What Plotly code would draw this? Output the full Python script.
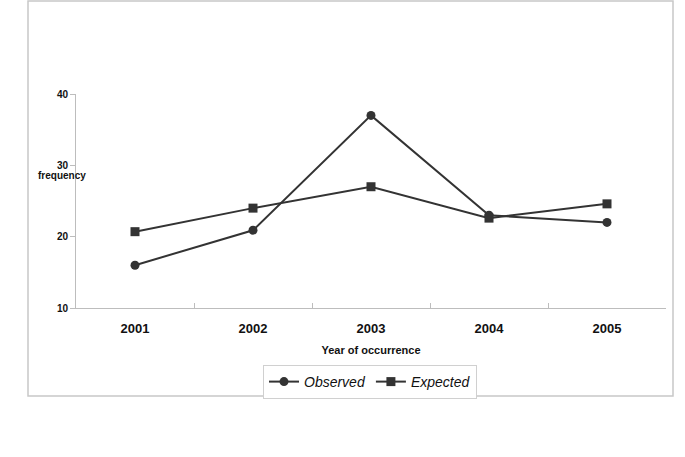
import plotly.graph_objects as go

years = ["2001", "2002", "2003", "2004", "2005"]
observed = [16.0, 20.9, 37.0, 23.0, 22.0]
expected = [20.7, 24.0, 27.0, 22.6, 24.6]

W, H = 685, 457
L, R, T, B = 76, 19, 94, 149
pw, ph = W - L - R, H - T - B

def px(x):
    return (x - L) / pw

def py(y):
    return (H - B - y) / ph

line_col = "#333333"
axis_col = "#bdbdbd"
font = "Liberation Sans, Arial, sans-serif"

fig = go.Figure()
fig.add_trace(go.Scatter(x=years, y=observed, name="Observed", mode="lines+markers",
                         line=dict(color=line_col, width=2),
                         marker=dict(symbol="circle", size=9, color=line_col)))
fig.add_trace(go.Scatter(x=years, y=expected, name="Expected", mode="lines+markers",
                         line=dict(color=line_col, width=2),
                         marker=dict(symbol="square", size=9, color=line_col)))

fig.update_layout(
    width=W, height=H,
    margin=dict(l=L, r=R, t=T, b=B),
    paper_bgcolor="white", plot_bgcolor="white",
    font=dict(family=font, color="#111111"),
    showlegend=True,
    legend=dict(orientation="h", x=px(370), y=py(382), xanchor="center", yanchor="middle",
                bordercolor="#d0d0d0", borderwidth=1, bgcolor="white",
                font=dict(size=14, style="italic", family=font), itemwidth=30,
                tracegroupgap=0),
    xaxis=dict(type="category", range=[-0.5, 4.5], showgrid=False, showline=True,
               linecolor=axis_col, linewidth=1,
               ticks="inside", ticklen=5, tickcolor=axis_col, tickson="boundaries",
               ticklabelstandoff=8,
               tickfont=dict(size=13, family=font, weight="bold"),
               title=dict(text="<b>Year of occurrence</b>", font=dict(size=11), standoff=11),
               zeroline=False),
    yaxis=dict(range=[10, 40], dtick=10, showgrid=False, showline=True, linecolor=axis_col,
               linewidth=1, ticks="outside", ticklen=5, tickcolor=axis_col,
               tickfont=dict(size=10, family=font, weight="bold"), zeroline=False),
    annotations=[dict(text="<b>frequency</b>", xref="paper", yref="paper",
                      x=px(62), y=py(175), showarrow=False, font=dict(size=10),
                      xanchor="center", yanchor="middle")],
    shapes=[dict(type="rect", xref="paper", yref="paper",
                 x0=px(28), x1=px(673), y0=py(396), y1=py(1),
                 line=dict(color="#c8c8c8", width=1.5), layer="below")],
)

fig.write_html("out.html", config={"displayModeBar": False},
               post_script="document.body.style.margin='0';document.body.style.padding='0';")
